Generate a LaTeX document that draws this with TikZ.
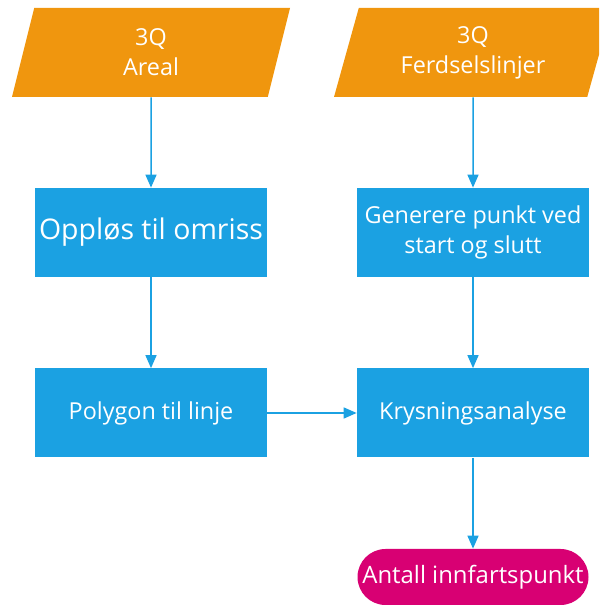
\documentclass[tikz,border=0pt]{standalone}
\usepackage{fontspec}
\setmainfont{Open Sans}
\usepackage{xcolor}
\usepackage{tikz}
\usetikzlibrary{shapes.geometric}
\usetikzlibrary{arrows.meta}

\definecolor{flowblue}{HTML}{1BA1E2}
\definecolor{floworange}{HTML}{F0960E}
\definecolor{flowmagenta}{HTML}{D80073}

\tikzset{
  inputbox/.style={trapezium, trapezium left angle=64.7, trapezium right angle=115.3,
    trapezium stretches body, minimum width=5.56cm, minimum height=1.78cm, inner sep=0pt,
    fill=floworange, text=white, align=center, font=\fontsize{13.3}{17}\selectfont},
  processbox/.style={rectangle, minimum width=4.64cm, minimum height=1.78cm, inner sep=0pt,
    fill=flowblue, text=white, align=center, font=\fontsize{13.3}{17.5}\selectfont},
  endbox/.style={rectangle, rounded corners=0.56cm, minimum width=4.62cm, minimum height=1.12cm,
    inner sep=0pt, fill=flowmagenta, text=white, font=\fontsize{13.6}{16}\selectfont},
  flowarrow/.style={draw=flowblue, line width=0.03cm, -{Triangle[length=0.26cm, width=0.22cm]}}
}

\begin{document}
\begin{tikzpicture}
                        \useasboundingbox (0,0) rectangle (11.980000,12.100000);
                        \clip (0,0) rectangle (11.980000,12.100000);

                        % Input data
                        \node [inputbox] (arealIn) at (3.020000,11.050000) {3Q\\Areal};
                        \node [inputbox] (linjerIn) at (9.460000,11.050000) {3Q\\Ferdselslinjer};

                        % Processing steps
                        \node [processbox, font=\fontsize{16.2}{20}\selectfont] (omriss) at (3.020000,7.450000) {Oppløs til omriss};
                        \node [processbox] (punkt) at (9.460000,7.450000) {Generere punkt ved\\start og slutt};
                        \node [processbox] (polylinje) at (3.020000,3.840000) {Polygon til linje};
                        \node [processbox] (kryss) at (9.460000,3.840000) {Krysningsanalyse};

                        % Result
                        \node [endbox] (antall) at (9.460000,0.560000) {Antall innfartspunkt};

                        % Drawing arrows
                        \draw [flowarrow] (arealIn.south) -- (omriss.north);%
                        \draw [flowarrow] (omriss.south) -- (polylinje.north);%
                        \draw [flowarrow] (linjerIn.south) -- (punkt.north);%
                        \draw [flowarrow] (punkt.south) -- (kryss.north);%
                        \draw [flowarrow] (polylinje.east) -- (kryss.west);%
                        \draw [flowarrow] (kryss.south) -- (antall.north);%
                    \end{tikzpicture}
\end{document}
